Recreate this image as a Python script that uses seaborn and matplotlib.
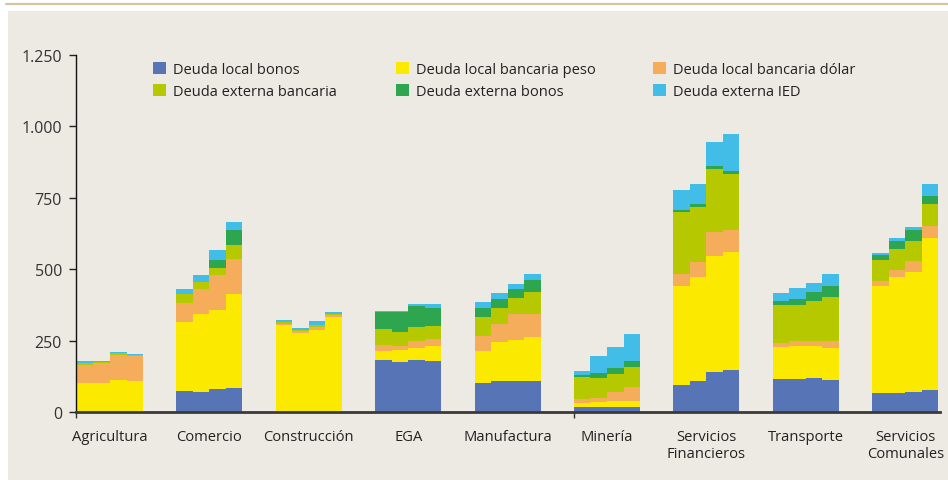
import numpy as np
import pandas as pd
import matplotlib
matplotlib.use("Agg")
import matplotlib.pyplot as plt
from matplotlib import font_manager
from matplotlib.patches import Rectangle, Patch
from matplotlib.lines import Line2D
import seaborn as sns

# ---- data (stock of debt by sector, four consecutive observations each) ----
sectors = ["Agricultura", "Comercio", "Construcción", "EGA", "Manufactura",
           "Minería", "Servicios\nFinancieros", "Transporte", "Servicios\nComunales"]

series = ["Deuda local bonos", "Deuda local bancaria peso", "Deuda local bancaria dólar",
          "Deuda externa bancaria", "Deuda externa bonos", "Deuda externa IED"]

colors = ["#5674B6", "#FCE900", "#F5AC5B", "#B6C800", "#2EA650", "#41BDE8"]

local_bonos = [[0, 0, 0, 0], [75, 71, 80, 83], [0, 0, 0, 0], [181, 176, 181, 177],
               [100, 108, 108, 108], [19, 19, 19, 17], [96, 108, 139, 147],
               [115, 115, 119, 112], [66, 66, 71, 78]]
local_peso = [[100, 100, 113, 110], [239, 272, 278, 331], [306, 275, 286, 331],
              [34, 42, 44, 53], [115, 137, 144, 156], [13, 15, 21, 23],
              [346, 363, 408, 414], [111, 117, 111, 111], [376, 405, 420, 531]]
local_dolar = [[65, 70, 86, 86], [66, 87, 121, 123], [3, 7, 13, 7], [18, 14, 23, 27],
               [51, 63, 90, 78], [12, 14, 29, 47], [41, 53, 82, 77],
               [15, 16, 18, 25], [18, 26, 38, 43]]
externa_bancaria = [[7, 4, 7, 5], [32, 24, 26, 49], [5, 6, 7, 5], [58, 48, 49, 44],
                    [65, 55, 57, 78], [77, 70, 64, 70], [218, 193, 221, 196],
                    [133, 126, 140, 155], [72, 74, 71, 76]]
externa_bonos = [[0, 0, 0, 0], [0, 0, 27, 52], [0, 0, 0, 0], [60, 71, 75, 64],
                 [34, 34, 30, 42], [10, 17, 20, 21], [5, 11, 10, 11],
                 [14, 21, 33, 38], [18, 29, 38, 29]]
externa_ied = [[7, 4, 5, 3], [18, 25, 34, 26], [7, 5, 11, 8], [4, 3, 5, 12],
               [19, 18, 19, 20], [14, 60, 76, 95], [72, 69, 87, 129],
               [27, 38, 30, 41], [8, 8, 11, 40]]

tick_values = [0, 250, 500, 750, 1000, 1250]

# ---- fonts ----
installed = {f.name for f in font_manager.fontManager.ttflist}
base_font = "Open Sans" if "Open Sans" in installed else "DejaVu Sans"

sns.set_style("ticks")
plt.rcParams["font.family"] = [base_font, "DejaVu Sans"]

# ---- long table with stacked (cumulative) heights ----
bar_w = 0.166
all_series = [local_bonos, local_peso, local_dolar, externa_bancaria, externa_bonos, externa_ied]
rows = []
for i, sec in enumerate(sectors):
    for j in range(4):
        pos = round(i + (j - 1.5) * bar_w, 4)
        cum = 0.0
        for k, name in enumerate(series):
            cum += all_series[k][i][j]
            rows.append({"sector": sec, "pos": pos, "serie": name, "cum": cum})
df = pd.DataFrame(rows)

# ---- figure ----
W, H = 948, 481
fig = plt.figure(figsize=(W / 100, H / 100), dpi=100, facecolor="white")
fig.patches.append(Rectangle((8 / W, 0), 1 - 8 / W, 1 - 12 / H, transform=fig.transFigure,
                             facecolor="#EDEAE4", edgecolor="none", zorder=-10))
fig.add_artist(Line2D([6 / W, 1], [1 - 4.5 / H] * 2, color="#D3C5A3", lw=1.6,
                      transform=fig.transFigure))

ax = fig.add_axes([76 / W, 1 - 413 / H, (940 - 76) / W, (413 - 56) / H])
ax.set_facecolor("none")

# tallest cumulative first, so each lower segment is painted on top
for k in range(len(series) - 1, -1, -1):
    sub = df[df["serie"] == series[k]]
    sns.barplot(data=sub, x="pos", y="cum", orient="x", native_scale=True, width=1.0,
                color=colors[k], saturation=1, errorbar=None, linewidth=0, ax=ax)

left = -(110 - 76) / 99.4
ax.set_xlim(left, left + 864 / 99.4)
ax.set_ylim(0, 1250)
ax.set_yticks(tick_values)
ax.set_yticklabels([f"{v:,}".replace(",", ".") for v in tick_values],
                   fontsize=11.5, color="#333333")
ax.set_xticks(range(len(sectors)))
ax.set_xticklabels(sectors, fontsize=10.6, color="#222222", linespacing=1.2, va="top")
ax.set_xticks([left, 5 - 2 * bar_w], minor=True)
ax.tick_params(axis="x", which="major", length=0, pad=12)
ax.tick_params(axis="x", which="minor", length=4, width=1, color="#333333", direction="out")
ax.tick_params(axis="y", length=5, width=1, color="#222222", pad=5)
ax.set_xlabel("")
ax.set_ylabel("")

for s in ["top", "right"]:
    ax.spines[s].set_visible(False)
ax.spines["left"].set_color("#111111")
ax.spines["left"].set_linewidth(1.0)
ax.spines["bottom"].set_color("#3A3A3A")
ax.spines["bottom"].set_linewidth(2.0)

# ---- legend: three columns of two entries ----
handles = [Patch(facecolor=c, edgecolor="none") for c in colors]
col_x = [153, 396, 653]
for c in range(3):
    idx = [c, c + 3]
    leg = fig.legend([handles[i] for i in idx], [series[i] for i in idx],
                     loc="upper left", bbox_to_anchor=(col_x[c] / W, 1 - 63 / H),
                     frameon=False, fontsize=10.5, handlelength=0.9, handleheight=0.9,
                     handletextpad=0.45, labelspacing=0.5, borderpad=0, borderaxespad=0)
    for t in leg.get_texts():
        t.set_color("#222222")

fig.savefig("out.png", dpi=100, facecolor=fig.get_facecolor())
